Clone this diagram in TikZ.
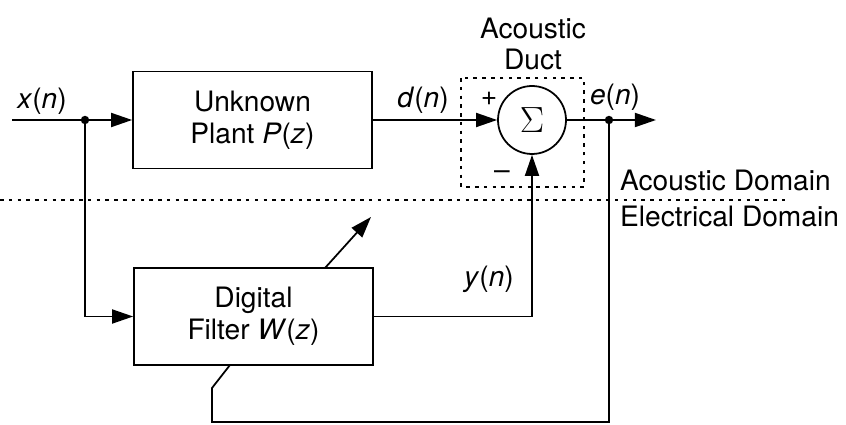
\documentclass[tikz,border=0pt]{standalone}
\usepackage{fontspec}
\setmainfont{TeX Gyre Heros}
\usetikzlibrary{arrows.meta}
\newcommand{\seq}[1]{\textit{#1}(\textit{n})}
\tikzset{
	block/.style={draw,line width=1pt,minimum width=4.78cm,minimum height=1.94cm,align=center,inner sep=0pt},
	sumnode/.style={draw,circle,line width=1pt,minimum size=1.36cm,inner sep=0pt},
	sig/.style={line width=1pt},
	arr/.style={line width=1pt,-{Triangle[length=12pt,width=8pt]}},
	dom/.style={line width=0.8pt,dash pattern=on 2pt off 3pt},
}
\begin{document}
\begin{tikzpicture}[x=0.02cm,y=-0.02cm,font=\fontsize{16}{18}\selectfont]
		\useasboundingbox (0,0) rectangle (846,425);
		% blocks
		\node[block] (P) at (252.5,120) {Unknown\\Plant \textit{P}(\textit{z})};
		\node[block] (W) at (253.5,316.5) {Digital\\Filter \textit{W}(\textit{z})};
		\node[sumnode] (S) at (532,120) {\huge$\Sigma$};
		% points
		\coordinate (X) at (12,120);
		\coordinate (J1) at (85,120);
		\coordinate (J2) at (609,120);
		\coordinate (E) at (656,120);
		\coordinate (F1) at (212,422);
		\coordinate (F2) at (212,388);
		\coordinate (F3) at (230,365);
		\coordinate (A1) at (325,268);
		\coordinate (A2) at (371,217);
		\coordinate (DL) at (0,200);
		\coordinate (DR) at (786,200);
		\coordinate (B1) at (461,78);
		\coordinate (B2) at (584,187);
		% domains
		\draw[dom] (DL)--(DR);
		\draw[dom] (B1) rectangle (B2);
		% signal paths
		\draw[sig] (X)--(J1);
		\draw[arr] (J1)--(P.west);
		\draw[arr] (P.east)--(S.west);
		\draw[arr] (S.east)--(E);
		\draw[arr] (J1) |- (W.west);
		\draw[arr] (W.east) -| (S.south);
		\draw[sig] (J2) |- (F1)--(F2)--(F3);
		\draw[arr] (A1)--(A2);
		\fill (J1) circle[radius=2.4pt] (J2) circle[radius=2.4pt];
		% labels
		\node (lx) at (42,101) {\seq{x}};
		\node (ld) at (423,100) {\seq{d}};
		\node (le) at (615,97) {\seq{e}};
		\node (ly) at (489,279) {\seq{y}};
		\node (lplus) at (489,99) {+};
		\node (lminus) at (502,175) {--};
		\node[align=center] (lduct) at (533,44) {Acoustic\\Duct};
		\node[anchor=west] (lac) at (614,180) {Acoustic Domain};
		\node[anchor=west] (lel) at (614,216) {Electrical Domain};
\end{tikzpicture}
\end{document}
